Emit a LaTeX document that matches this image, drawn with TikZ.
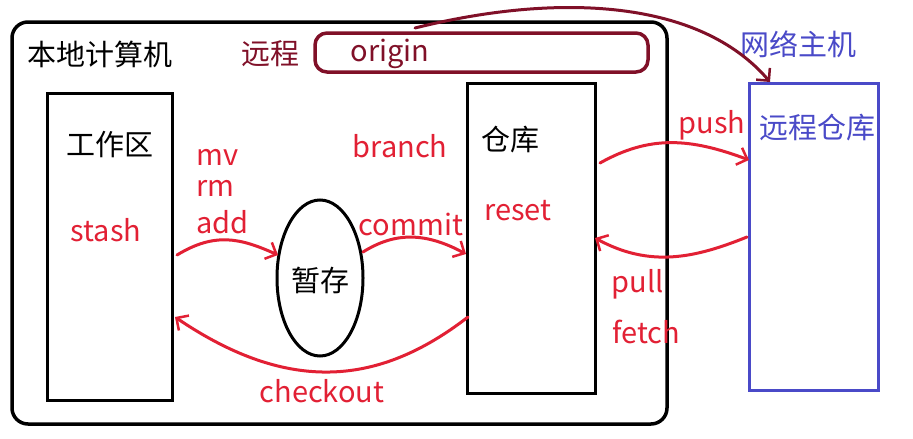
\documentclass[tikz,border=0pt]{standalone}
\usepackage{fontspec}
\setmainfont{Noto Sans CJK SC}
\usetikzlibrary{arrows.meta,shapes.geometric}

\tikzset{
  txt/.style={font=\fontsize{29}{32}\selectfont, inner sep=0pt},
  redtxt/.style={txt, text=gitred},
  box/.style={draw, line width=3pt, minimum width=#1, inner sep=0pt},
  redarrow/.style={draw=gitred, line width=3pt, line cap=round,
    -{Straight Barb[length=9pt,width=18pt,line width=2.5pt]}}
}

\begin{document}
\begin{tikzpicture}[x=1pt, y=-1pt]
    % Define colors
    \definecolor{gitred}{RGB}{226,32,52}
    \definecolor{maroon}{RGB}{128,16,40}
    \definecolor{hostblue}{RGB}{74,74,200}

    \useasboundingbox (0,0) rectangle (913,439);
    \fill[white] (0,0) rectangle (913,439);

    % Draw the local computer frame
    \node[draw, line width=3.5pt, rounded corners=16pt, minimum width=655pt,
          minimum height=402pt] (local) at (339.5,223) {};
    \node[txt] (localname) at (100,54) {本地计算机};

    % Draw the remote name box
    \node[draw=maroon, line width=3.5pt, rounded corners=12pt, minimum width=333pt,
          minimum height=39pt] (originbox) at (481.5,52.5) {};
    \node[txt, text=maroon] (remotename) at (270,54) {远程};
    \node[txt, text=maroon] (origin) at (390,54) {origin};

    % Draw the three stores
    \node[box=125pt, minimum height=307pt] (work) at (109.5,246.5) {};
    \node[box=128pt, minimum height=310pt] (repo) at (531,238) {};
    \node[box=129pt, minimum height=307pt, draw=hostblue] (remote) at (813.5,236.5) {};
    \node[draw, line width=3pt, ellipse, minimum width=86pt,
          minimum height=156pt] (stage) at (320,278) {};

    % Add store labels
    \node[txt] (worklabel) at (110,145) {工作区};
    \node[txt] (repolabel) at (510,140) {仓库};
    \node[txt] (stagelabel) at (320,280) {暂存};
    \node[txt, text=hostblue] (remotelabel) at (817,128) {远程仓库};
    \node[txt, text=hostblue] (hostlabel) at (798,44) {网络主机};

    % Add command labels
    \node[redtxt] (stash) at (106,230) {stash};
    \node[redtxt, anchor=west] (mv) at (196,157) {mv};
    \node[redtxt, anchor=west] (rm) at (196,188) {rm};
    \node[redtxt, anchor=west] (add) at (196,222) {add};
    \node[redtxt] (branch) at (400,146) {branch};
    \node[redtxt] (commit) at (411,224) {commit};
    \node[redtxt] (reset) at (518,211) {reset};
    \node[redtxt] (checkout) at (322,391) {checkout};
    \node[redtxt] (push) at (712,125) {push};
    \node[redtxt] (pull) at (638,284) {pull};
    \node[redtxt] (fetch) at (646,332) {fetch};

    % Calculate arrow end points
    \coordinate (addstart) at (177,255);
    \coordinate (addend) at (278,255);
    \coordinate (commitstart) at (363,252);
    \coordinate (commitend) at (466,254);
    \coordinate (checkstart) at (468,317);
    \coordinate (checkend) at (175,317);
    \coordinate (pushstart) at (600,163);
    \coordinate (pushend) at (749,160);
    \coordinate (pullstart) at (747,237);
    \coordinate (pullend) at (595,238);
    \coordinate (linkstart) at (415,28);
    \coordinate (linkend) at (770,82);

    % Draw the command arrows
    \path[redarrow] (addstart) .. controls (215,232) and (240,238) .. (addend);
    \path[redarrow] (commitstart) .. controls (395,232) and (425,232) .. (commitend);
    \path[redarrow] (checkstart) .. controls (380,385) and (290,395) .. (checkend);
    \path[redarrow] (pushstart) .. controls (650,135) and (690,138) .. (pushend);
    \path[redarrow] (pullstart) .. controls (695,258) and (650,268) .. (pullend);

    % Draw the link to the network host
    \draw[maroon, line width=3pt, line cap=round,
          -{Straight Barb[length=9pt,width=18pt,line width=2.5pt]}]
          (linkstart) .. controls (560,-8) and (700,0) .. (linkend);

\end{tikzpicture}
\end{document}
